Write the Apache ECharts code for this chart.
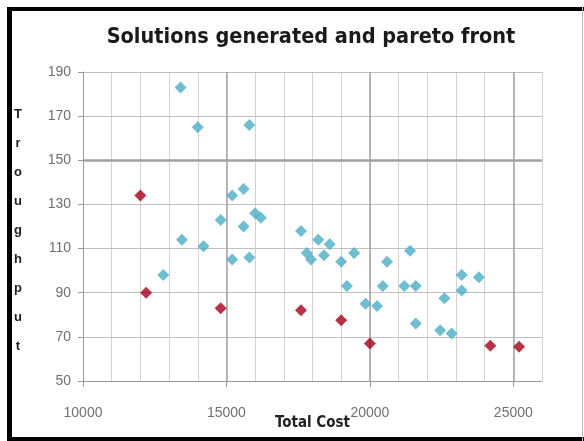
<!DOCTYPE html>
<html>
<head>
<meta charset="utf-8">
<style>
  html, body { margin: 0; padding: 0; background: #fff; }
  #chart { width: 584px; height: 441px; }
</style>
<script src="https://cdn.jsdelivr.net/npm/echarts@6/dist/echarts.min.js"></script>
</head>
<body>
<div id="chart"></div>
<script>
// Generated solutions (total cost, throughput)
const solutionCost = [13400, 14000, 15800, 15200, 15600, 16000, 16200, 14800, 15600, 13450,
  14200, 15200, 15800, 12800, 17600, 18200, 18600, 17800, 17950, 18400,
  19000, 19450, 20600, 21400, 19200, 20450, 21200, 21600, 19850, 20250,
  21600, 23200, 23800, 23200, 22600, 22450, 22850];
const solutionThroughput = [183, 165, 166, 134, 137, 126, 124, 123, 120, 114,
  111, 105, 106, 98, 118, 114, 112, 108, 105, 107,
  104, 108, 104, 109, 93, 93, 93, 93, 85, 84,
  76, 98, 97, 91, 87.5, 73, 71.5];

// Pareto front points
const paretoCost = [12000, 12200, 14800, 17600, 19000, 20000, 24200, 25200];
const paretoThroughput = [134, 90, 83, 82, 77.5, 67, 66, 65.5];

const xTicks = [10000, 15000, 20000, 25000];
const yTicks = [50, 70, 90, 110, 130, 150, 170, 190];

// Major gridlines (darker than the minor ones)
const xMajorLines = [15000, 20000, 25000];
const yMajorLines = [150];

const titleText = 'Solutions generated and pareto front';
const xTitle = 'Total Cost';
const yTitle = 'Troughput';

const pairs = (xs, ys) => xs.map((x, i) => [x, ys[i]]);

const chart = echarts.init(document.getElementById('chart'));
const labelStyle = { color: '#707070', fontSize: 14, fontFamily: 'Liberation Sans' };
const narrow = 'Liberation Sans Narrow, DejaVu Sans Condensed, sans-serif';

chart.setOption({
  animation: false,
  backgroundColor: '#fff',
  title: {
    text: titleText,
    left: 306, top: 21,
    textAlign: 'center',
    textStyle: { fontFamily: narrow, fontWeight: 'bold', fontSize: 21.5, color: '#1a1a1a' }
  },
  grid: { left: 83, right: 42, top: 72, bottom: 60, containLabel: false, outerBoundsMode: 'none' },
  xAxis: [
    {
      type: 'value', min: xTicks[0], max: 26000, interval: 5000,
      axisLine: { lineStyle: { color: '#9a9a9a' } },
      axisTick: { show: true, length: 6, lineStyle: { color: '#9a9a9a' } },
      axisLabel: Object.assign({ margin: 25, showMaxLabel: false,
        formatter: v => (xTicks.indexOf(v) >= 0 ? String(v) : '') }, labelStyle),
      splitLine: { show: false },
      name: xTitle, nameLocation: 'middle', nameGap: 35, nameMoveOverlap: false,
      nameTextStyle: { fontFamily: narrow, fontSize: 15, color: '#222', fontWeight: 'bold' },
      z: 3
    },
    {
      type: 'value', min: xTicks[0], max: 26000, interval: 1000, position: 'bottom',
      axisLine: { show: false }, axisTick: { show: false }, axisLabel: { show: false },
      splitLine: { show: true, lineStyle: { color: '#d2d2d2', width: 1 } },
      z: 1
    }
  ],
  yAxis: [
    {
      type: 'value', min: yTicks[0], max: yTicks[yTicks.length - 1], interval: 20,
      axisLine: { show: true, lineStyle: { color: '#9a9a9a' } },
      axisTick: { show: true, length: 5, lineStyle: { color: '#9a9a9a' } },
      axisLabel: Object.assign({ margin: 12 }, labelStyle),
      splitLine: { show: true, lineStyle: { color: '#c0c0c0', width: 1 } },
      z: 3
    }
  ],
  series: [
    {
      name: 'Solutions', type: 'scatter', symbol: 'diamond', symbolSize: 12,
      xAxisIndex: 0, yAxisIndex: 0,
      itemStyle: { color: '#4bacc6' },
      data: pairs(solutionCost, solutionThroughput), z: 5,
      markLine: {
        silent: true, symbol: 'none', label: { show: false }, animation: false,
        lineStyle: { color: '#a3a3a3', type: 'solid', width: 1.5 },
        data: xMajorLines.map(v => ({ xAxis: v }))
          .concat(yMajorLines.map(v => ({ yAxis: v, lineStyle: { width: 2.5, color: '#a0a0a0' } })))
      }
    },
    {
      name: 'Pareto front', type: 'scatter', symbol: 'diamond', symbolSize: 12,
      xAxisIndex: 0, yAxisIndex: 0,
      itemStyle: { color: '#a8001a' },
      data: pairs(paretoCost, paretoThroughput), z: 6
    }
  ],
  graphic: [
    // vertical axis title, one letter per line
    { type: 'text', x: 18, y: 100, z: 10,
      style: { text: yTitle.split('').join('\n'), align: 'center', verticalAlign: 'top',
        fontFamily: 'Liberation Sans', fontSize: 13, fontWeight: 'bold', fill: '#222', lineHeight: 29 } },
    // chart frame
    { type: 'rect', shape: { x: 7, y: 7, width: 5, height: 434 }, style: { fill: '#000' } },
    { type: 'rect', shape: { x: 7, y: 7, width: 577, height: 4 }, style: { fill: '#000' } },
    { type: 'rect', shape: { x: 7, y: 437, width: 577, height: 4 }, style: { fill: '#000' } },
    { type: 'rect', shape: { x: 582, y: 7, width: 1, height: 434 }, style: { fill: '#bdbdbd' } }
  ]
});
</script>
</body>
</html>
